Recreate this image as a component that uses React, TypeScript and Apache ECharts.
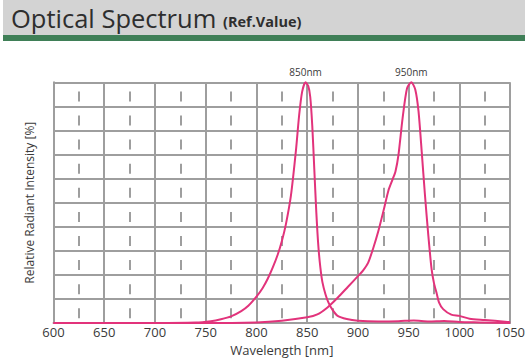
import React, { useEffect, useRef } from "react";
import * as echarts from "echarts";

const xTicks = [600, 650, 700, 750, 800, 850, 900, 950, 1000, 1050];
const peakLabels = ["850nm", "950nm"];

const wl850 = [600, 700, 740, 755, 765, 775, 785, 792, 800, 806, 811, 816, 821, 825, 829, 834, 839, 842, 845, 848.4, 851, 853, 855, 857, 859, 861, 863, 865, 868, 871, 875, 880, 889, 900, 920, 940, 955, 970, 985, 1000, 1020, 1050];
const int850 = [0, 0, 0.2, 0.8, 1.6, 2.8, 5, 7.2, 11, 14.5, 18.3, 23, 28.5, 34, 41, 53, 72, 86, 96, 100, 98.5, 94, 82, 64, 46, 32, 23, 17, 12, 8.5, 5.5, 3, 1.7, 1, 0.7, 0.8, 1.1, 0.7, 0.9, 0.5, 0.3, 0];

const wl950 = [600, 750, 800, 825, 850, 860, 870, 880, 890, 900, 905, 910, 915, 920, 926, 930, 934, 937, 940, 944, 948.4, 952.6, 956.5, 959.7, 962.9, 966.1, 969.4, 972.6, 975, 977.4, 980, 984, 992, 1000, 1010, 1025, 1045, 1050];
const int950 = [0, 0, 0.3, 1, 2.4, 3.6, 6.5, 10.5, 15, 19.5, 21.8, 25, 31, 38, 48, 55, 59.5, 63, 70, 85, 97.5, 100, 97, 88, 71, 53, 36.3, 22.4, 16.5, 12.7, 8.5, 5.8, 3.5, 3, 1.8, 1.3, 0.6, 0.4];

const pink = "#e2337b";
const gridGray = "#9e9e9e";

export default function App() {
  const ref = useRef<HTMLDivElement>(null);
  useEffect(() => {
    if (!ref.current) return;
    const chart = echarts.init(ref.current, null, { renderer: "svg" });
    const d850 = wl850.map((w, i) => [w, int850[i]]);
    const d950 = wl950.map((w, i) => [w, int950[i]]);
    chart.setOption({
      animation: false,
      backgroundColor: "#ffffff",
      graphic: [
        { type: "rect", shape: { x: 3, y: 0, width: 522, height: 35 }, style: { fill: "#d3d3d3" } },
        { type: "rect", shape: { x: 3, y: 35, width: 522, height: 6 }, style: { fill: "#3f7f57" } },
        {
          type: "text",
          x: 11,
          y: 18,
          style: {
            text: "Optical Spectrum",
            fontSize: 25.5,
            fontFamily: "Open Sans",
            fill: "#2e2e2e",
            verticalAlign: "middle",
          },
        },
        {
          type: "text",
          x: 223,
          y: 21,
          style: {
            text: "(Ref.Value)",
            fontSize: 14.5,
            fontWeight: "bold",
            fontFamily: "Open Sans",
            fill: "#2e2e2e",
            verticalAlign: "middle",
          },
        },
      ],
      grid: { left: 53.5, right: 12.5, top: 82.3, bottom: 37.7, containLabel: false },
      xAxis: {
        type: "value",
        min: 600,
        max: 1050,
        interval: 50,
        name: "Wavelength [nm]",
        nameLocation: "middle",
        nameGap: 15,
        nameTextStyle: { fontSize: 13, color: "#3a3a3a", fontFamily: "Open Sans" },
        axisLine: { show: true, lineStyle: { color: gridGray, width: 2 } },
        axisTick: { show: false },
        axisLabel: {
          margin: 2,
          fontSize: 13,
          color: "#3a3a3a",
          fontFamily: "Open Sans",
          formatter: (v: number) => (xTicks.includes(v) ? String(v) : ""),
        },
        splitLine: { show: true, lineStyle: { color: gridGray, width: 2 } },
        minorTick: { show: false, splitNumber: 2 },
        minorSplitLine: { show: true, lineStyle: { color: gridGray, width: 2, type: [10, 14.1], dashOffset: 14.5 } },
      },
      yAxis: {
        type: "value",
        min: 0,
        max: 100,
        interval: 10,
        name: "Relative Radiant Intensity [%]",
        nameLocation: "middle",
        nameGap: 18,
        nameTextStyle: { fontSize: 12, color: "#3a3a3a", fontFamily: "Open Sans" },
        axisLine: { show: true, lineStyle: { color: gridGray, width: 2 } },
        axisTick: { show: false },
        axisLabel: { show: false },
        splitLine: { show: true, lineStyle: { color: gridGray, width: 2 } },
      },
      series: [
        {
          type: "line",
          data: d850,
          smooth: 0.25,
          showSymbol: false,
          clip: false,
          lineStyle: { color: pink, width: 2 },
          markPoint: {
            symbol: "circle",
            symbolSize: 0,
            label: { show: true, position: "top", distance: 5, fontSize: 10, color: "#3a3a3a", fontFamily: "Open Sans", formatter: peakLabels[0] },
            data: [{ coord: [wl850[19], int850[19]] }],
          },
        },
        {
          type: "line",
          data: d950,
          smooth: 0.25,
          showSymbol: false,
          clip: false,
          lineStyle: { color: pink, width: 2 },
          markPoint: {
            symbol: "circle",
            symbolSize: 0,
            label: { show: true, position: "top", distance: 5, fontSize: 10, color: "#3a3a3a", fontFamily: "Open Sans", formatter: peakLabels[1] },
            data: [{ coord: [wl950[21], int950[21]] }],
          },
        },
      ],
    });
    return () => chart.dispose();
  }, []);
  return <div ref={ref} style={{ width: 528, height: 361, position: "absolute", left: 0, top: 0 }} />;
}
